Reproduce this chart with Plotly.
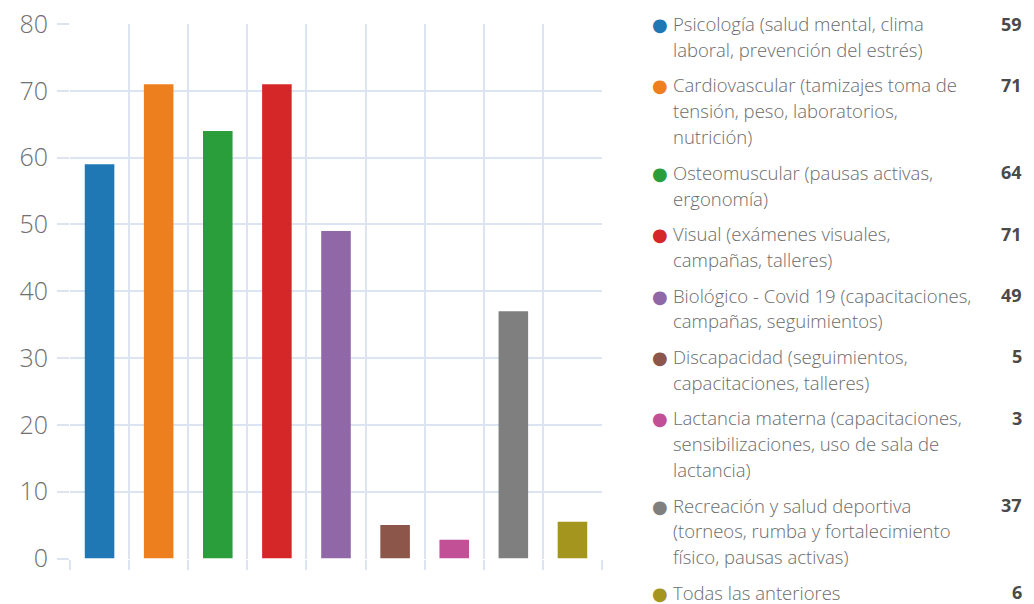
import plotly.graph_objects as go

W, H = 1034, 604

categories = ["Psicología", "Cardiovascular", "Osteomuscular", "Visual", "Biológico - Covid 19",
              "Discapacidad", "Lactancia materna", "Recreación y salud deportiva", "Todas las anteriores"]
values = [59, 71, 64, 71, 49, 5, 2.8, 37, 5.5]
colors = ["#1F77B4", "#EE7F1F", "#2A9E3A", "#D62728", "#9067A7",
          "#8C564B", "#C25097", "#7F7F7F", "#A3951E"]
legend_lines = [
    ["Psicología (salud mental, clima", "laboral, prevención del estrés)"],
    ["Cardiovascular (tamizajes toma de", "tensión, peso, laboratorios,", "nutrición)"],
    ["Osteomuscular (pausas activas,", "ergonomía)"],
    ["Visual (exámenes visuales,", "campañas, talleres)"],
    ["Biológico - Covid 19 (capacitaciones,", "campañas, seguimientos)"],
    ["Discapacidad (seguimientos,", "capacitaciones, talleres)"],
    ["Lactancia materna (capacitaciones,", "sensibilizaciones, uso de sala de", "lactancia)"],
    ["Recreación y salud deportiva", "(torneos, rumba y fortalecimiento", "físico, pausas activas)"],
    ["Todas las anteriores"],
]
y_ticks = [0, 10, 20, 30, 40, 50, 60, 70, 80]

GRID = "#DCE3F1"
FONT = "Open Sans"

fig = go.Figure()
fig.add_trace(go.Bar(x=categories, y=values, marker=dict(color=colors, line=dict(width=0)),
                     showlegend=False, hoverinfo="x+y"))

x0, x1 = 70, 602
y_top, y_bot = 24, 558.5
fig.update_layout(
    width=W, height=H,
    margin=dict(l=0, r=0, t=0, b=0, autoexpand=False),
    plot_bgcolor="white", paper_bgcolor="white",
    bargap=0.5,
    xaxis=dict(domain=[x0 / W, x1 / W], showticklabels=False, tickson="boundaries",
               ticks="outside", ticklen=10, tickwidth=2, tickcolor=GRID, automargin=False,
               showgrid=True, gridcolor=GRID, gridwidth=2, showline=False, zeroline=False),
    yaxis=dict(domain=[1 - y_bot / H, 1 - y_top / H], range=[0, 80], tickvals=y_ticks,
               ticks="outside", ticklen=12, tickwidth=2, tickcolor=GRID, automargin=False,
               showgrid=True, gridcolor=GRID, gridwidth=2, zeroline=False, showline=False,
               tickfont=dict(family=FONT, size=25, color="#707070", weight=300), ticklabelstandoff=4),
    font=dict(family=FONT),
)

# custom legend
line_h = 25.9
entry_gap = 9.6
y = 23.5
ann = []
for lines, v, c in zip(legend_lines, values, colors):
    ann.append(dict(x=660 / W, y=1 - (y + 1) / H, xref="paper", yref="paper", text="●",
                    showarrow=False, xanchor="center", yanchor="middle",
                    font=dict(size=18, color=c, family="DejaVu Sans")))
    ann.append(dict(x=1023 / W, y=1 - y / H, xref="paper", yref="paper", text=f"<b>{v:.0f}</b>",
                    showarrow=False, xanchor="right", yanchor="middle", borderpad=0,
                    font=dict(size=18, color="#4A4A4A", family=FONT)))
    for k, ln in enumerate(lines):
        ann.append(dict(x=672 / W, y=1 - (y + k * line_h) / H, xref="paper", yref="paper", text=ln,
                        showarrow=False, xanchor="left", yanchor="middle", borderpad=0,
                        font=dict(size=18.5, color="#6B6B6B", family=FONT, weight=300)))
    y += len(lines) * line_h + entry_gap
fig.update_layout(annotations=ann)

fig.write_html("out.html")
